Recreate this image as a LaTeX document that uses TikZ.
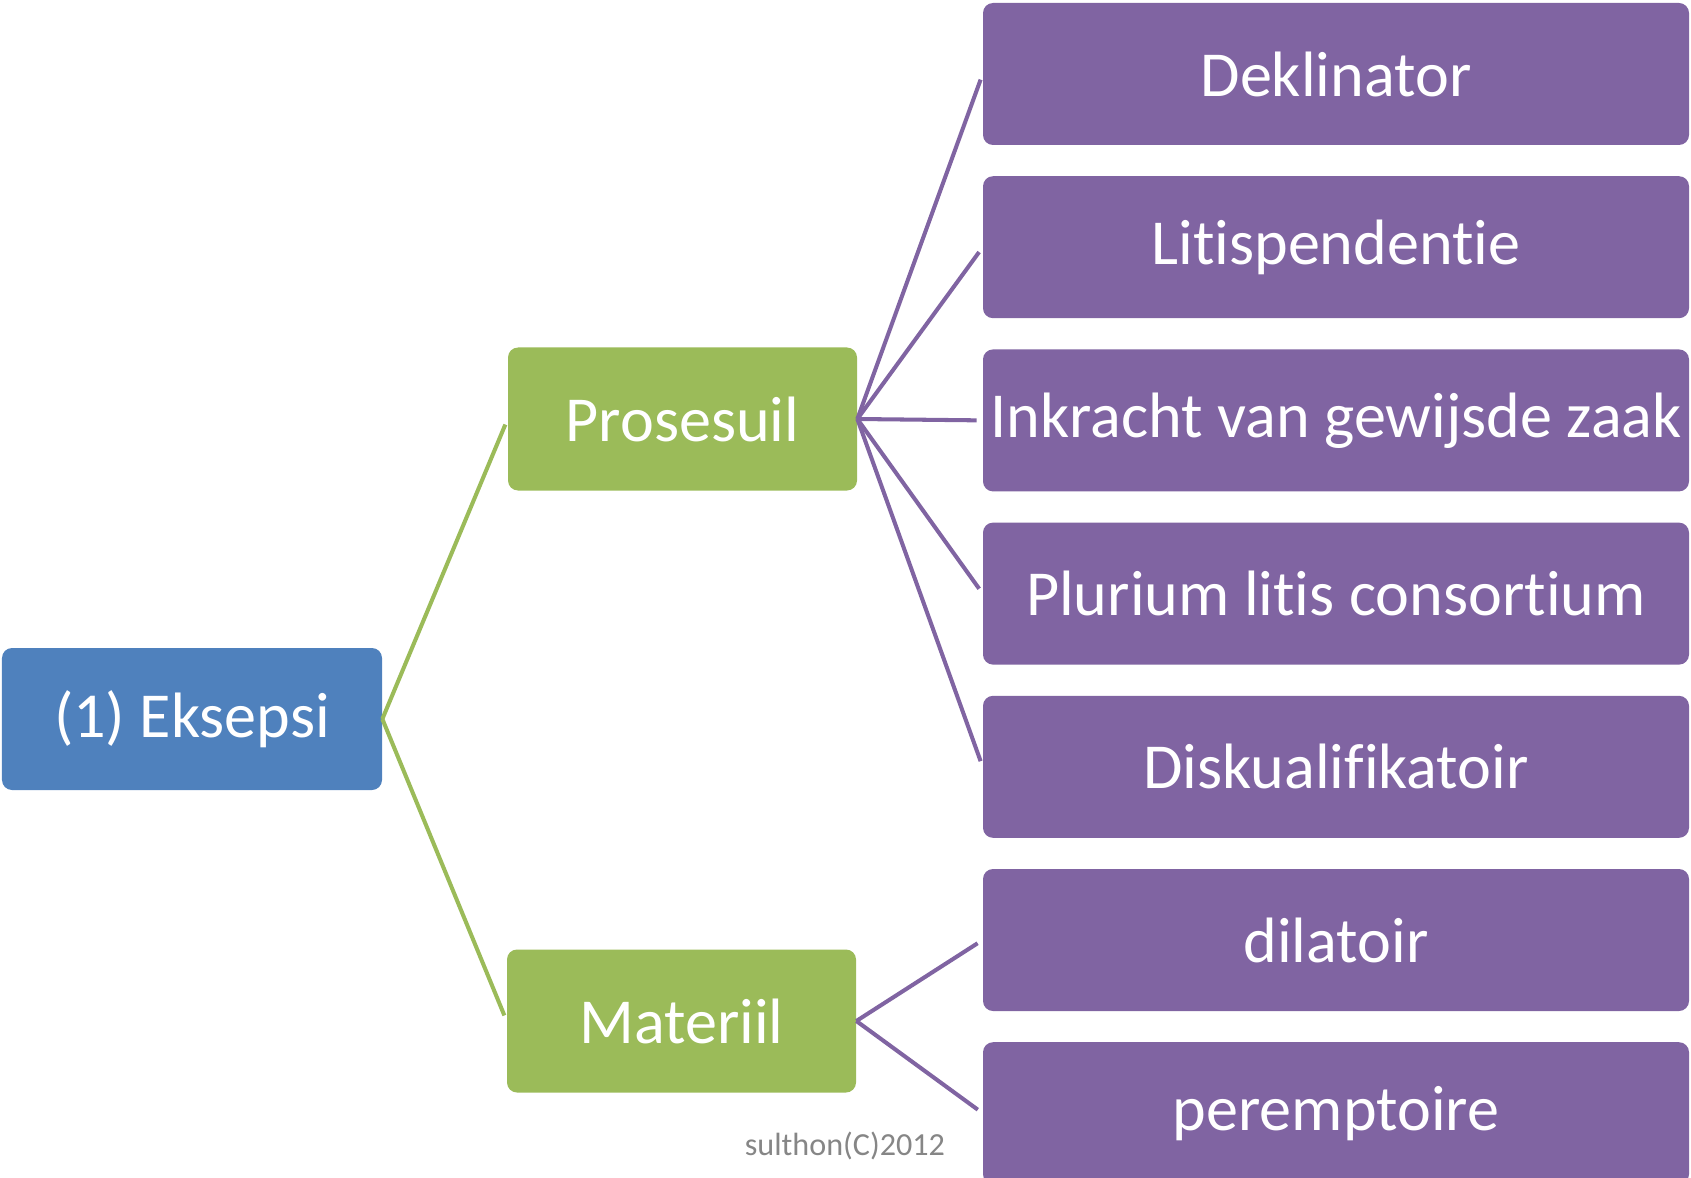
\documentclass[tikz,border=0pt]{standalone}
\usepackage{fontspec}
\setmainfont{Carlito}[Ligatures={NoCommon,NoRequired,NoContextual}]
\usepackage{tikz}
\usetikzlibrary{positioning}
\definecolor{rootblue}{RGB}{79,129,189}
\definecolor{leafgreen}{RGB}{155,187,89}
\definecolor{plum}{RGB}{128,100,162}
\definecolor{stamp}{RGB}{134,134,134}

\begin{document}
\begin{tikzpicture}[font=\fontsize{36.5}{44}\selectfont,
 root/.style={fill=rootblue, text=white, rounded corners=0.2cm, minimum width=7.6cm, minimum height=2.84cm, inner sep=0pt},
 branch/.style={fill=leafgreen, text=white, rounded corners=0.2cm, minimum width=6.98cm, minimum height=2.86cm, inner sep=0pt},
 leaf/.style={fill=plum, text=white, rounded corners=0.2cm, minimum width=14.12cm, minimum height=2.84cm, inner sep=0pt},
 glink/.style={draw=leafgreen, line width=2.3pt, shorten >=0.12cm},
 plink/.style={draw=plum, line width=2.3pt, shorten >=0.12cm}]
\useasboundingbox (0,0) rectangle (33.82,-23.56);
% right column
\node[leaf] (dek) at (26.72,-1.48) {Deklinator};
\node[leaf, below=0.61cm of dek] (litis) {Litispendentie};
\node[leaf, below=0.61cm of litis] (inkracht) {Inkracht van gewijsde zaak};
\node[leaf, below=0.61cm of inkracht] (plurium) {Plurium litis consortium};
\node[leaf, below=0.61cm of plurium] (diskual) {Diskualifikatoir};
\node[leaf, below=0.61cm of diskual] (dila) {dilatoir};
\node[leaf, below=0.61cm of dila] (perem) {peremptoire};
% middle and left
\node[branch] (pros) at (13.65,-8.38) {Prosesuil};
\node[branch] (mat) at (13.63,-20.42) {Materiil};
\node[root] (eks) at (3.84,-14.38) {(1) Eksepsi};
\draw[glink] (eks.east) -- (pros.west);
\draw[glink] (eks.east) -- (mat.west);
\foreach \n in {dek,litis,inkracht,plurium,diskual}
  \draw[plink] (pros.east) -- (\n.west);
\foreach \n in {dila,perem}
  \draw[plink] (mat.east) -- (\n.west);
\node[font=\fontsize{18.3}{22}\selectfont, text=stamp] (credit) at (16.9,-22.92) {sulthon(C)2012};
\end{tikzpicture}
\end{document}
